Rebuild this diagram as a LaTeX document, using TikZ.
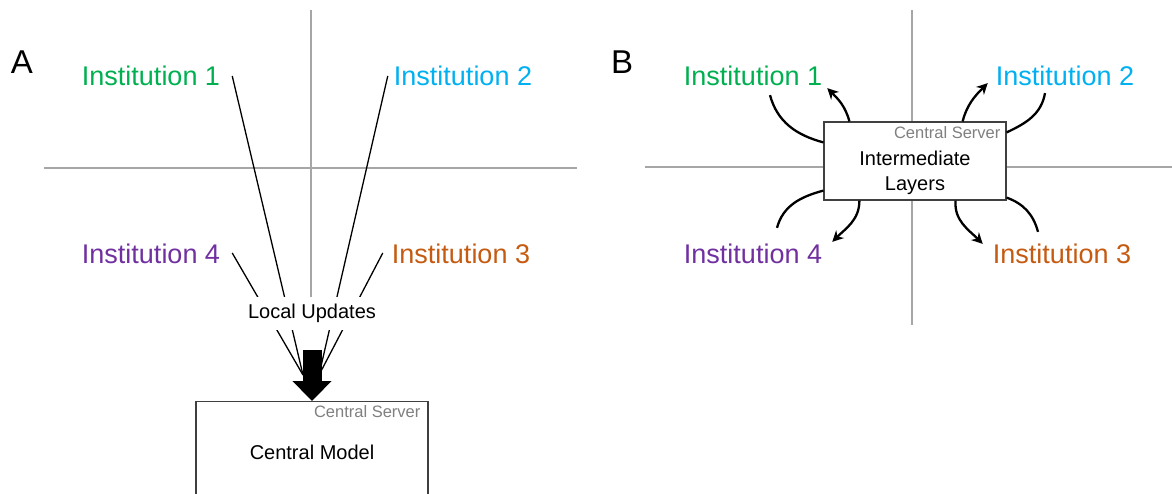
\documentclass[tikz,border=0pt]{standalone}
\usepackage{fontspec}
\setmainfont{Liberation Sans}
\usetikzlibrary{arrows.meta}
\definecolor{instgreen}{RGB}{0,176,80}
\definecolor{instcyan}{RGB}{0,176,240}
\definecolor{instpurple}{RGB}{112,48,160}
\definecolor{instbrown}{RGB}{197,90,17}
\definecolor{axisgray}{RGB}{166,166,166}
\definecolor{servergray}{RGB}{128,128,128}

\begin{document}
\begin{tikzpicture}[x=1pt, y=1pt,
  inst/.style={inner sep=0pt, font=\fontsize{27}{32}\selectfont},
  panel/.style={inner sep=0pt, font=\fontsize{33}{38}\selectfont},
  lbl/.style={inner sep=0pt, font=\fontsize{20}{25}\selectfont, align=center},
  srv/.style={inner sep=0pt, text=servergray, font=\fontsize{16.5}{20}\selectfont},
  box/.style={draw=black!75, line width=1.2pt, fill=white},
  axis/.style={draw=axisgray, line width=1.3pt},
  update/.style={line width=1.3pt},
  flow/.style={line width=2.3pt},
  flowarrow/.style={line width=2.3pt, -{Stealth[length=11pt,width=11pt]}}]
  \clip (0,0) rectangle (1172,493);

  % panel A
  \node[panel] (pa) at (22,431) {A};
  \node[inst, text=instgreen] (i1) at (151,417) {Institution 1};
  \node[inst, text=instcyan] (i2) at (463,417) {Institution 2};
  \node[inst, text=instpurple] (i4) at (151,239) {Institution 4};
  \node[inst, text=instbrown] (i3) at (461,239) {Institution 3};
  \coordinate (u1) at (303,118);
  \coordinate (u2) at (319,118);
  \draw[axis] (44,325) -- (577,325);
  \draw[axis] (311,483) -- (311,180);
  \draw[update] ([xshift=12pt]i1.east) -- (u1);
  \draw[update] ([xshift=12pt,yshift=1pt]i4.east) -- (u1);
  \draw[update] ([xshift=-6pt]i2.west) -- (u2);
  \draw[update] ([xshift=-9pt,yshift=1pt]i3.west) -- (u2);
  \node[lbl, fill=white, inner xsep=11pt, inner ysep=7pt] (lu) at (312,179.5) {Local Updates};
  \node[box, minimum width=232pt, minimum height=110pt, anchor=north] (cm) at (312,92) {};
  \node[srv, anchor=north east] (cs1) at ([xshift=-8pt,yshift=-4pt]cm.north east) {Central Server};
  \node[lbl] (cmt) at ([yshift=-51pt]cm.north) {Central Model};
  \draw[line width=19pt, -{Triangle[length=20pt,width=38pt]}] ([yshift=-20pt]lu.south) -- (cm.north);

  % panel B
  \node[panel] (pb) at (622,431) {B};
  \draw[axis] (645,326) -- (1172,326);
  \draw[axis] (912,483) -- (912,168);
  \node[inst, text=instgreen] (j1) at (753,417) {Institution 1};
  \node[inst, text=instcyan] (j2) at (1065,417) {Institution 2};
  \node[inst, text=instpurple] (j4) at (753,239) {Institution 4};
  \node[inst, text=instbrown] (j3) at (1062,239) {Institution 3};
  \node[box, minimum width=182pt, minimum height=78pt] (sv) at (915,332) {};
  \node[srv, anchor=north east] (cs2) at ([xshift=-6pt,yshift=-5pt]sv.north east) {Central Server};
  \node[lbl] (il) at (915,320) {Intermediate\\Layers};

  \draw[flow] ([xshift=17pt,yshift=-9pt]j1.south) to[out=-75,in=165] ([yshift=-21pt]sv.north west);
  \draw[flowarrow] ([xshift=26pt]sv.north west) to[out=105,in=-45] ([xshift=5pt,yshift=-2pt]j1.south east);
  \draw[flowarrow] ([xshift=-44pt]sv.north east) to[out=75,in=-135] ([xshift=-8pt,yshift=3pt]j2.south west);
  \draw[flow] ([xshift=-20pt,yshift=-7pt]j2.south) to[out=-100,in=25] ([yshift=-11pt]sv.north east);
  \draw[flow] ([xshift=24pt,yshift=16pt]j4.north) to[out=75,in=195] ([yshift=10pt]sv.south west);
  \draw[flowarrow] ([xshift=36pt]sv.south west) to[out=-90,in=45] ([xshift=10pt,yshift=2pt]j4.north east);
  \draw[flowarrow] ([xshift=-51pt]sv.south east) to[out=-95,in=135] ([xshift=-10pt]j3.north west);
  \draw[flow] ([yshift=3pt]sv.south east) to[out=-20,in=105] ([xshift=-24pt,yshift=12pt]j3.north);
\end{tikzpicture}
\end{document}
